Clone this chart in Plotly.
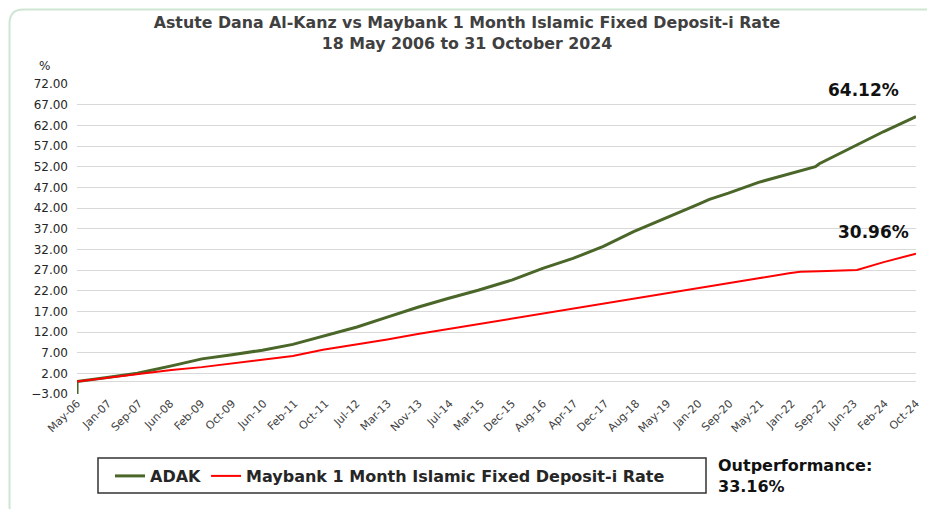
import plotly.graph_objects as go
import pandas as pd

title_line1 = "Astute Dana Al-Kanz vs Maybank 1 Month Islamic Fixed Deposit-i Rate"
title_line2 = "18 May 2006 to 31 October 2024"

tick_labels = ["May-06", "Jan-07", "Sep-07", "Jun-08", "Feb-09", "Oct-09", "Jun-10", "Feb-11",
               "Oct-11", "Jul-12", "Mar-13", "Nov-13", "Jul-14", "Mar-15", "Dec-15", "Aug-16",
               "Apr-17", "Dec-17", "Aug-18", "May-19", "Jan-20", "Sep-20", "May-21", "Jan-22",
               "Sep-22", "Jun-23", "Feb-24", "Oct-24"]
start_date = "2006-05-18"
end_date = "2024-10-31"

adak_dates = ["2006-05-18", "2006-05-19", "2007-01-15", "2007-09-15", "2008-06-15", "2009-02-15",
              "2009-10-15", "2010-06-15", "2011-02-15", "2011-10-15", "2012-07-15", "2013-03-15",
              "2013-11-15", "2014-07-15", "2015-03-15", "2015-12-15", "2016-08-15", "2017-04-15",
              "2017-12-15", "2018-08-15", "2019-05-15", "2020-01-15", "2020-04-15", "2020-09-15",
              "2021-05-15", "2022-01-15", "2022-08-15", "2022-09-15", "2023-06-15", "2024-02-15",
              "2024-10-31"]
adak_values = [-3.0, 0.0, 1.0, 2.0, 3.8, 5.5, 6.5, 7.6, 9.0, 11.0, 13.2, 15.6, 18.0, 20.1, 22.1,
               24.6, 27.4, 29.8, 32.7, 36.3, 39.7, 42.9, 44.1, 45.6, 48.2, 50.3, 52.0, 52.7, 56.8,
               60.5, 64.12]

fd_dates = ["2006-05-18", "2007-01-15", "2007-09-15", "2008-06-15", "2009-02-15", "2009-10-15",
            "2010-06-15", "2011-02-15", "2011-10-15", "2012-07-15", "2013-03-15", "2013-11-15",
            "2014-07-15", "2015-03-15", "2015-12-15", "2016-08-15", "2017-04-15", "2017-12-15",
            "2018-08-15", "2019-05-15", "2020-01-15", "2020-09-15", "2021-05-15", "2022-01-15",
            "2022-04-15", "2022-09-15", "2023-06-15", "2023-07-15", "2024-02-15", "2024-10-31"]
fd_values = [0.0, 0.9, 1.9, 2.8, 3.5, 4.4, 5.2, 6.2, 7.7, 9.0, 10.2, 11.5, 12.7, 14.0, 15.2, 16.5,
             17.7, 19.0, 20.2, 21.4, 22.6, 23.8, 25.0, 26.2, 26.6, 26.7, 26.9, 27.0, 28.9, 30.96]

adak_final = "64.12%"
fd_final = "30.96%"
outperformance = "33.16%"

# page body has an 8px margin: figure pixels = screenshot pixels - 8
OFF = 8
W, H = 935 - OFF, 509 - OFF
PLOT_X0, PLOT_X1, PLOT_Y0, PLOT_Y1 = 77, 916, 84, 394  # screenshot pixels
L, R = PLOT_X0 - OFF, W - (PLOT_X1 - OFF)
T, B = PLOT_Y0 - OFF, H - (PLOT_Y1 - OFF)
PW, PH = W - L - R, H - T - B


def px(x):
    return (x - PLOT_X0) / PW


def py(y):
    return (PLOT_Y1 - y) / PH


tickvals = pd.date_range(start_date, end_date, periods=len(tick_labels))

fig = go.Figure()
fig.add_trace(go.Scatter(x=adak_dates, y=adak_values, mode="lines", name="ADAK",
                         line=dict(color="#4a6628", width=3)))
fig.add_trace(go.Scatter(x=fd_dates, y=fd_values, mode="lines",
                         name="Maybank 1 Month Islamic Fixed Deposit-i Rate",
                         line=dict(color="#ff0000", width=2)))

wide = "DejaVu Sans"

fig.update_layout(
    width=W, height=H,
    margin=dict(l=L, r=R, t=T, b=B, autoexpand=False),
    paper_bgcolor="white", plot_bgcolor="white",
    title=dict(text=title_line1 + "<br>" + title_line2, x=(467 - OFF) / W, xref="container",
               xanchor="center", y=1 - 20 / H, yanchor="top",
               font=dict(family=wide, size=15.8, color="#404040", weight="bold")),
    showlegend=True,
    legend=dict(orientation="h", x=px(110), y=py(476), xanchor="left", yanchor="middle",
                borderwidth=0, bgcolor="rgba(0,0,0,0)",
                font=dict(family=wide, size=16, color="#262626", weight="bold"),
                itemwidth=30, traceorder="normal"),
    xaxis=dict(type="date", range=[start_date, end_date], tickvals=tickvals, ticktext=tick_labels,
               tickangle=-45, showgrid=False, showline=False, zeroline=False, ticks="",
               automargin=False,
               tickfont=dict(family=wide, size=11, color="#404040")),
    yaxis=dict(range=[-3, 72], tickvals=[-3 + 5 * i for i in range(16)], tickformat=".2f",
               showgrid=True, gridcolor="#d9d9d9", gridwidth=1, zeroline=True,
               zerolinecolor="#d9d9d9", zerolinewidth=1, showline=False, ticks="",
               automargin=False, ticklabelstandoff=8,
               tickfont=dict(family=wide, size=12, color="#262626")),
)

fig.add_annotation(text="%", x=px(44), y=py(66), xref="paper", yref="paper", showarrow=False,
                   xanchor="center", yanchor="middle",
                   font=dict(family=wide, size=12, color="#262626"))
fig.add_annotation(text=adak_final, x=px(863), y=py(90), xref="paper", yref="paper",
                   showarrow=False, xanchor="center", yanchor="middle",
                   font=dict(family=wide, size=17, color="#111111", weight="bold"))
fig.add_annotation(text=fd_final, x=px(873), y=py(232), xref="paper", yref="paper",
                   showarrow=False, xanchor="center", yanchor="middle",
                   font=dict(family=wide, size=17, color="#111111", weight="bold"))
fig.add_annotation(text="Outperformance:<br>" + outperformance, x=px(716), y=py(476),
                   xref="paper", yref="paper", xanchor="left", yanchor="middle", align="left",
                   showarrow=False, font=dict(family=wide, size=16, color="#111111", weight="bold"))

# legend box
fig.add_shape(type="rect", x0=px(98), x1=px(706), y0=py(458), y1=py(493), xref="paper",
              yref="paper", line=dict(color="#333333", width=1.5), fillcolor="rgba(0,0,0,0)")

# outer rounded border (kept just inside the drawable area)
x0, y0, x1, y1, r = px(9.5), py(9.5), px(945), py(520), 14
rx, ry = r / PW, r / PH
path = (f"M {x1},{y0} L {x0 + rx},{y0} Q {x0},{y0} {x0},{y0 - ry} "
        f"L {x0},{y1 + ry} Q {x0},{y1} {x0 + rx},{y1} L {x1},{y1}")
fig.add_shape(type="path", path=path, xref="paper", yref="paper",
              line=dict(color="#cfe5d3", width=2))

fig.write_html("out.html")
